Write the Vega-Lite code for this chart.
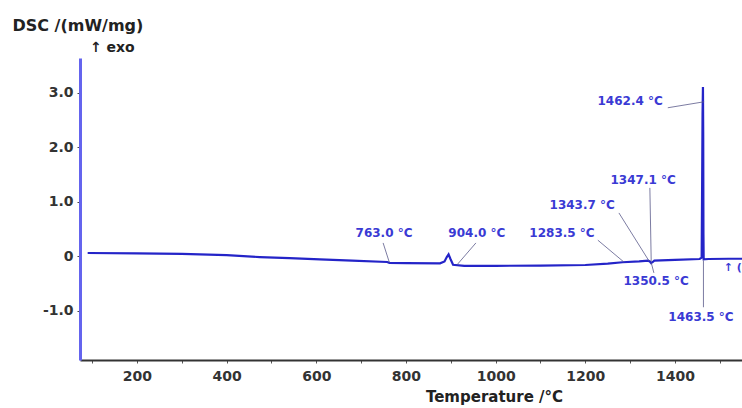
{
  "$schema": "https://vega.github.io/schema/vega-lite/v6.json",
  "width": 662,
  "height": 302,
  "autosize": "none",
  "padding": {"left": 80, "top": 58, "right": 0, "bottom": 48},
  "background": "white",
  "config": {
    "view": {"stroke": null},
    "font": "DejaVu Sans"
  },
  "datasets": {
    "curve": [
      {"t": 90, "v": 0.055}, {"t": 200, "v": 0.05}, {"t": 300, "v": 0.04},
      {"t": 400, "v": 0.015}, {"t": 474, "v": -0.02}, {"t": 540, "v": -0.04},
      {"t": 608, "v": -0.06}, {"t": 680, "v": -0.085}, {"t": 758, "v": -0.11},
      {"t": 763, "v": -0.125}, {"t": 800, "v": -0.13}, {"t": 876, "v": -0.135},
      {"t": 886, "v": -0.1}, {"t": 891, "v": -0.02}, {"t": 895, "v": 0.03},
      {"t": 899, "v": -0.05}, {"t": 905, "v": -0.16}, {"t": 930, "v": -0.18},
      {"t": 1000, "v": -0.18}, {"t": 1100, "v": -0.175}, {"t": 1200, "v": -0.165},
      {"t": 1250, "v": -0.14}, {"t": 1283, "v": -0.115}, {"t": 1320, "v": -0.1},
      {"t": 1340, "v": -0.085}, {"t": 1344, "v": -0.1}, {"t": 1347, "v": -0.13},
      {"t": 1350, "v": -0.11}, {"t": 1354, "v": -0.085}, {"t": 1400, "v": -0.07},
      {"t": 1455, "v": -0.055}, {"t": 1459.5, "v": -0.03}, {"t": 1460.5, "v": 1.2},
      {"t": 1461.5, "v": 2.6}, {"t": 1462.4, "v": 3.1}, {"t": 1463, "v": 2.2},
      {"t": 1463.5, "v": 0.4}, {"t": 1464, "v": -0.06}, {"t": 1475, "v": -0.055},
      {"t": 1520, "v": -0.05}, {"t": 1550, "v": -0.05}
    ],
    "labels": [
      {"t": 1300, "v": 2.84, "label": "1462.4 °C"},
      {"t": 1329, "v": 1.39, "label": "1347.1 °C"},
      {"t": 1193, "v": 0.94, "label": "1343.7 °C"},
      {"t": 1148, "v": 0.42, "label": "1283.5 °C"},
      {"t": 751, "v": 0.42, "label": "763.0 °C"},
      {"t": 958, "v": 0.42, "label": "904.0 °C"},
      {"t": 1358, "v": -0.46, "label": "1350.5 °C"},
      {"t": 1458, "v": -1.12, "label": "1463.5 °C"}
    ],
    "leaders": [
      {"t1": 1384, "v1": 2.72, "t2": 1465, "v2": 2.83},
      {"t1": 1344, "v1": 1.25, "t2": 1347, "v2": -0.1},
      {"t1": 1275, "v1": 0.79, "t2": 1342, "v2": -0.09},
      {"t1": 1228, "v1": 0.29, "t2": 1286, "v2": -0.11},
      {"t1": 749, "v1": 0.24, "t2": 763, "v2": -0.12},
      {"t1": 956, "v1": 0.24, "t2": 914, "v2": -0.16},
      {"t1": 1347, "v1": -0.12, "t2": 1353, "v2": -0.31},
      {"t1": 1463.5, "v1": -0.08, "t2": 1463.5, "v2": -0.94}
    ]
  },
  "layer": [
    {
      "data": {"name": "curve"},
      "mark": {"type": "line", "color": "#2424c8", "strokeWidth": 2.2, "clip": true},
      "encoding": {
        "x": {
          "field": "t", "type": "quantitative",
          "scale": {"domain": [72.9, 1549.5], "nice": false, "zero": false},
          "axis": {
            "values": [100, 200, 300, 400, 500, 600, 700, 800, 900, 1000, 1100, 1200, 1300, 1400, 1500],
            "labelExpr": "datum.value % 200 == 0 ? format(datum.value, 'd') : ''",
            "title": "Temperature /°C",
            "titleX": 414, "titleY": 41, "titleAlign": "center", "titleBaseline": "alphabetic",
            "titleFontSize": 15, "titleFontWeight": "bold", "titleColor": "#222",
            "labelFontSize": 14, "labelFontWeight": "bold", "labelColor": "#333",
            "labelPadding": 6,
            "domainColor": "#333", "domainWidth": 2,
            "tickColor": "#555", "tickSize": 3, "tickWidth": 1,
            "grid": false, "labelFlush": false, "labelOverlap": false
          }
        },
        "y": {
          "field": "v", "type": "quantitative",
          "scale": {"domain": [-1.908, 3.633], "nice": false, "zero": false},
          "axis": {
            "values": [-1, 0, 1, 2, 3],
            "labelExpr": "datum.value == 0 ? '0' : (datum.value < 0 ? '-' : '') + format(abs(datum.value), '.1f')",
            "title": "DSC /(mW/mg)",
            "titleAngle": 0, "titleAlign": "left", "titleBaseline": "middle",
            "titleX": -68, "titleY": -33,
            "titleFontSize": 16, "titleFontWeight": "bold", "titleColor": "#222",
            "labelFontSize": 14, "labelFontWeight": "bold", "labelColor": "#333",
            "labelPadding": 4,
            "domainColor": "#6464ee", "domainWidth": 3,
            "tickColor": "#444", "tickSize": 3, "tickWidth": 1,
            "grid": false
          }
        }
      }
    },
    {
      "data": {"name": "leaders"},
      "mark": {"type": "rule", "color": "#5a5a8a", "strokeWidth": 0.8},
      "encoding": {
        "x": {"field": "t1", "type": "quantitative"},
        "y": {"field": "v1", "type": "quantitative"},
        "x2": {"field": "t2"},
        "y2": {"field": "v2"}
      }
    },
    {
      "data": {"name": "labels"},
      "mark": {"type": "text", "color": "#3a3ad4", "fontSize": 12, "fontWeight": "bold", "align": "center", "baseline": "middle"},
      "encoding": {
        "x": {"field": "t", "type": "quantitative"},
        "y": {"field": "v", "type": "quantitative"},
        "text": {"field": "label"}
      }
    },
    {
      "data": {"values": [{"t": 1549, "v": -0.22, "label": "↑ ("}]},
      "mark": {"type": "text", "color": "#3a3ad4", "fontSize": 11, "fontWeight": "bold", "align": "right", "baseline": "middle"},
      "encoding": {
        "x": {"field": "t", "type": "quantitative"},
        "y": {"field": "v", "type": "quantitative"},
        "text": {"field": "label"}
      }
    },
    {
      "data": {"values": [{"t": 95, "v": 3.82, "label": "↑ exo"}]},
      "mark": {"type": "text", "color": "#222", "fontSize": 14, "fontWeight": "bold", "align": "left", "baseline": "middle"},
      "encoding": {
        "x": {"field": "t", "type": "quantitative"},
        "y": {"field": "v", "type": "quantitative"},
        "text": {"field": "label"}
      }
    }
  ]
}
